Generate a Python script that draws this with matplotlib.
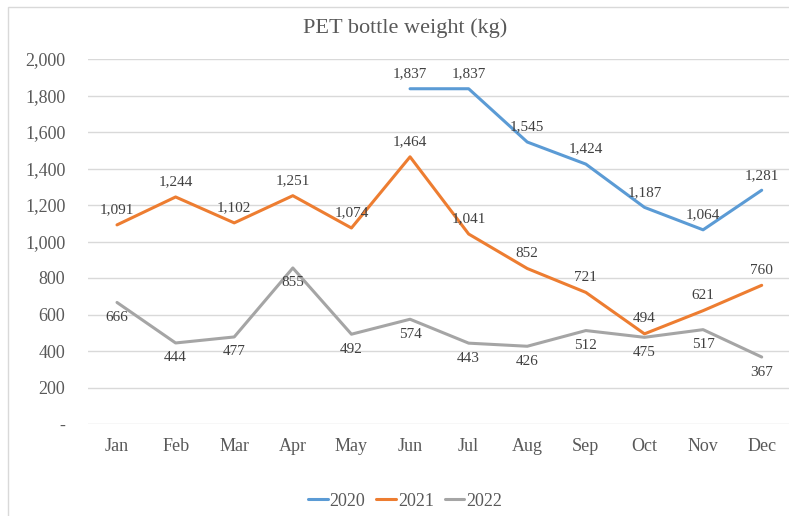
import matplotlib.pyplot as plt
import numpy as np
from matplotlib.patches import Rectangle
from matplotlib.ticker import FuncFormatter

months = ['Jan', 'Feb', 'Mar', 'Apr', 'May', 'Jun', 'Jul', 'Aug', 'Sep', 'Oct', 'Nov', 'Dec']
# 2020 only has data from June
y2020 = [None, None, None, None, None, 1837, 1837, 1545, 1424, 1187, 1064, 1281]
y2021 = [1091, 1244, 1102, 1251, 1074, 1464, 1041, 852, 721, 494, 621, 760]
y2022 = [666, 444, 477, 855, 492, 574, 443, 426, 512, 475, 517, 367]

series = [('2020', y2020, '#5B9BD5', 15),
          ('2021', y2021, '#ED7D31', 15),
          ('2022', y2022, '#A5A5A5', -15)]

plt.rcParams['font.family'] = ['Liberation Serif', 'DejaVu Serif']
txt = '#595959'

W, H = 789, 516
fig = plt.figure(figsize=(W / 100, H / 100), dpi=100)
ax = fig.add_axes([87.7 / W, 1 - 424 / H, (791 - 87.7) / W, (424 - 59) / H])

# chart border (only top/left visible in reference)
fig.patches.append(Rectangle((8 / W, -0.1), 1.2, 1 - 7 / H + 0.1, transform=fig.transFigure,
                             fill=False, edgecolor='#D9D9D9', lw=1))

x = np.arange(len(months))
for name, vals, col, off in series:
    xs = [i for i, v in zip(x, vals) if v is not None]
    ys = [v for v in vals if v is not None]
    ax.plot(xs, ys, color=col, lw=2.2, label=name, solid_capstyle='round')
    for xi, yi in zip(xs, ys):
        ax.annotate(f'{yi:,}', (xi, yi), xytext=(0, off), textcoords='offset pixels',
                    ha='center', va='center', fontsize=11, color='#404040')

ax.set_xlim(-0.5, 11.5)
ax.set_ylim(0, 2000)
ax.set_yticks(range(0, 2001, 200))
ax.yaxis.set_major_formatter(FuncFormatter(lambda v, p: '-' if v == 0 else f'{int(v):,}'))
ax.set_xticks(x)
ax.set_xticklabels(months)
ax.tick_params(axis='y', length=0, pad=16, labelsize=13, labelcolor=txt)
ax.tick_params(axis='x', length=0, pad=10, labelsize=13, labelcolor=txt)
ax.grid(axis='y', color='#D9D9D9', lw=1)
ax.set_axisbelow(True)
for s in ax.spines.values():
    s.set_visible(False)

fig.text(405 / W, 1 - 28 / H, 'PET bottle weight (kg)', ha='center', va='center',
         fontsize=16, color=txt)

fig.legend(loc='center', bbox_to_anchor=(405 / W, 1 - 501 / H), ncol=3, frameon=False,
           fontsize=13, labelcolor=txt, handlelength=1.1, handletextpad=0.1,
           columnspacing=0.6)

fig.savefig('out.png', dpi=100)
